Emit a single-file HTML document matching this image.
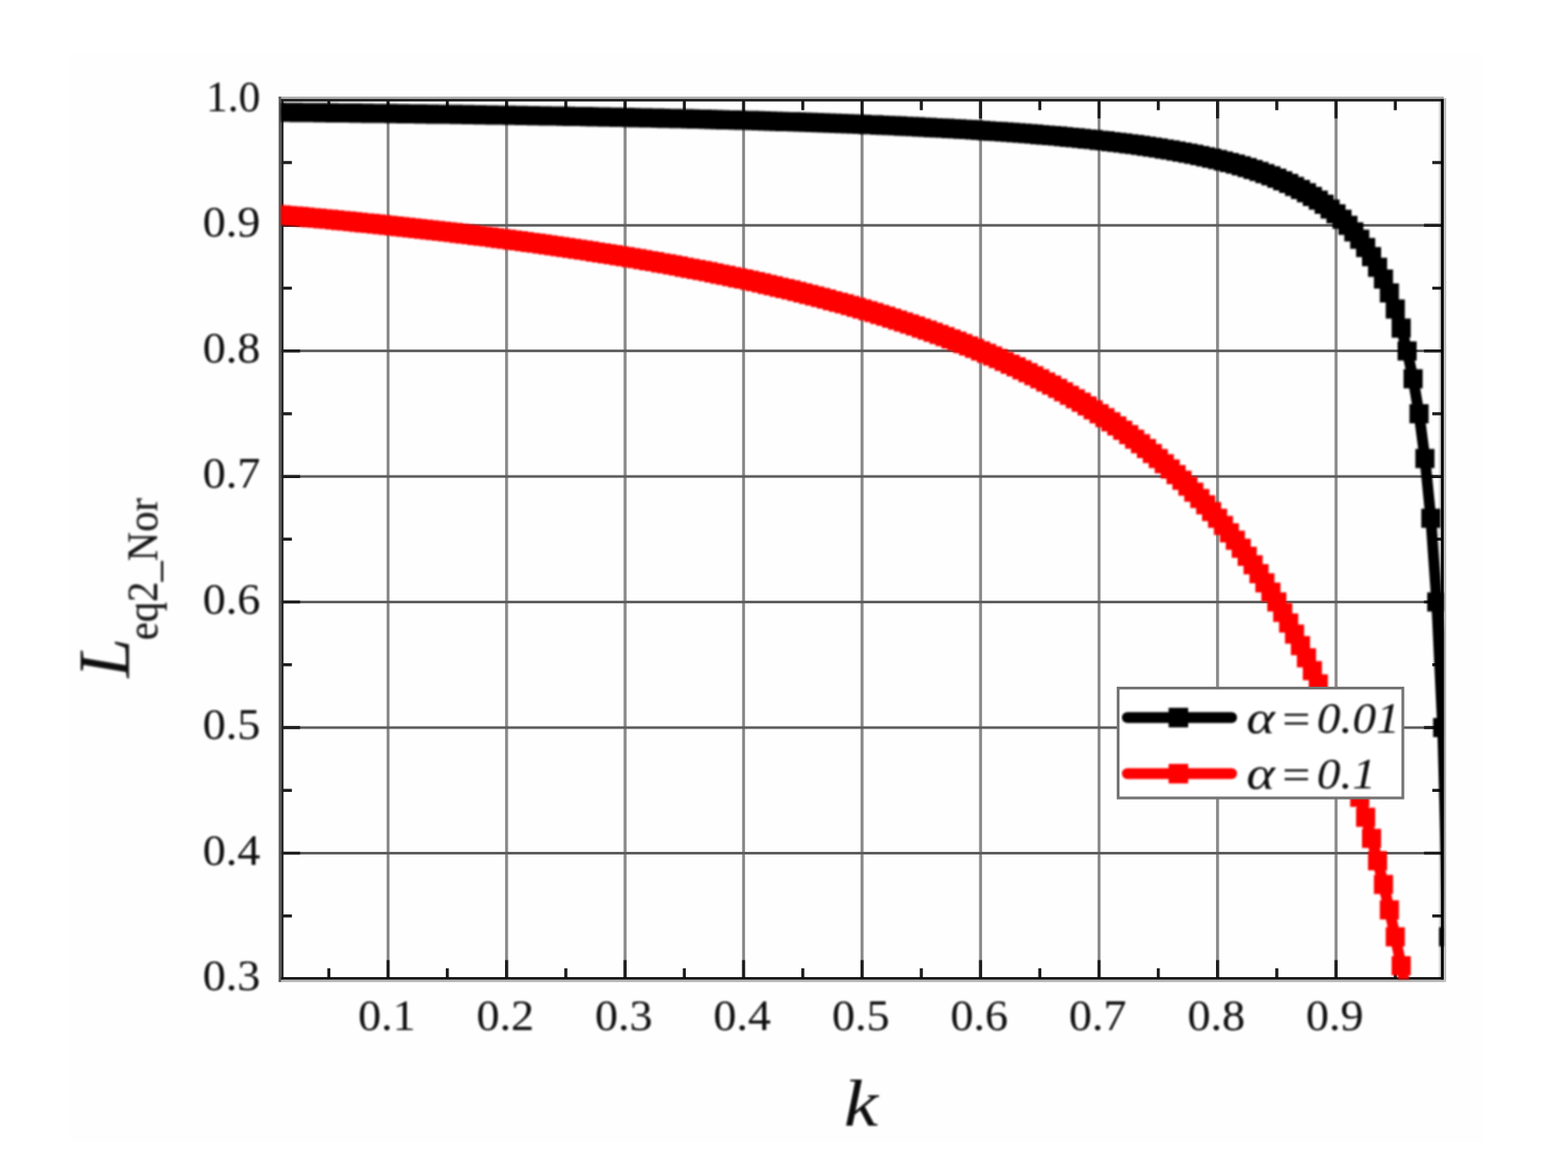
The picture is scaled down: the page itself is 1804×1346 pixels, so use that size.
<!DOCTYPE html>
<html lang="en"><head><meta charset="utf-8"><title>L_eq2_Nor vs k</title>
<style>html,body{margin:0;padding:0;background:#fff;}body{width:1804px;height:1346px;overflow:hidden;}svg{display:block;}text{font-family:"Liberation Serif","DejaVu Serif",serif;fill:#080808;}</style></head><body>
<svg width="1804" height="1346" viewBox="0 0 1804 1346">
<defs><clipPath id="pc"><rect x="323.30" y="113.75" width="1337.63" height="1012.82"/></clipPath>
<filter id="bt" x="-5%" y="-5%" width="110%" height="110%"><feGaussianBlur stdDeviation="0.8"/></filter>
<filter id="bc" filterUnits="userSpaceOnUse" x="0" y="0" width="1804" height="1346"><feGaussianBlur stdDeviation="0.8"/></filter>
</defs>
<rect x="0" y="0" width="1804" height="1346" fill="#fff"/>
<rect x="80" y="62" width="1626" height="1252" fill="#fefefe"/>
<g>
<rect x="444.80" y="114.75" width="3.40" height="1011.22" fill="#898989"/>
<rect x="581.13" y="114.75" width="3.40" height="1011.22" fill="#898989"/>
<rect x="717.46" y="114.75" width="3.40" height="1011.22" fill="#898989"/>
<rect x="853.79" y="114.75" width="3.40" height="1011.22" fill="#898989"/>
<rect x="990.12" y="114.75" width="3.40" height="1011.22" fill="#898989"/>
<rect x="1126.45" y="114.75" width="3.40" height="1011.22" fill="#898989"/>
<rect x="1262.78" y="114.75" width="3.40" height="1011.22" fill="#898989"/>
<rect x="1399.11" y="114.75" width="3.40" height="1011.22" fill="#898989"/>
<rect x="1535.44" y="114.75" width="3.40" height="1011.22" fill="#898989"/>
<rect x="323.80" y="980.01" width="1336.03" height="3.00" fill="#5c5c5c"/>
<rect x="323.80" y="835.55" width="1336.03" height="3.00" fill="#5c5c5c"/>
<rect x="323.80" y="691.09" width="1336.03" height="3.00" fill="#5c5c5c"/>
<rect x="323.80" y="546.63" width="1336.03" height="3.00" fill="#5c5c5c"/>
<rect x="323.80" y="402.17" width="1336.03" height="3.00" fill="#5c5c5c"/>
<rect x="323.80" y="257.71" width="1336.03" height="3.00" fill="#5c5c5c"/>
<rect x="320.60" y="111.20" width="1340.40" height="2.70" fill="#aaaaaa"/>
<rect x="320.60" y="1126.90" width="1340.40" height="2.80" fill="#b0b0b0"/>
<rect x="1661.00" y="113.00" width="2.80" height="1016.70" fill="#bbbbbb"/>
<rect x="1655.20" y="116.70" width="2.50" height="1007.40" fill="#dddddd"/>
<path d="M378.33 1125.97v-12.00M378.33 114.75v12.00M446.50 1125.97v-21.50M446.50 114.75v21.50M514.66 1125.97v-12.00M514.66 114.75v12.00M582.83 1125.97v-21.50M582.83 114.75v21.50M651.00 1125.97v-12.00M651.00 114.75v12.00M719.16 1125.97v-21.50M719.16 114.75v21.50M787.33 1125.97v-12.00M787.33 114.75v12.00M855.49 1125.97v-21.50M855.49 114.75v21.50M923.65 1125.97v-12.00M923.65 114.75v12.00M991.82 1125.97v-21.50M991.82 114.75v21.50M1059.99 1125.97v-12.00M1059.99 114.75v12.00M1128.15 1125.97v-21.50M1128.15 114.75v21.50M1196.32 1125.97v-12.00M1196.32 114.75v12.00M1264.48 1125.97v-21.50M1264.48 114.75v21.50M1332.64 1125.97v-12.00M1332.64 114.75v12.00M1400.81 1125.97v-21.50M1400.81 114.75v21.50M1468.98 1125.97v-12.00M1468.98 114.75v12.00M1537.14 1125.97v-21.50M1537.14 114.75v21.50M1605.31 1125.97v-12.00M1605.31 114.75v12.00M323.80 1053.74h12.00M1659.84 1053.74h-12.00M323.80 981.51h21.50M1659.84 981.51h-21.50M323.80 909.28h12.00M1659.84 909.28h-12.00M323.80 837.05h21.50M1659.84 837.05h-21.50M323.80 764.82h12.00M1659.84 764.82h-12.00M323.80 692.59h21.50M1659.84 692.59h-21.50M323.80 620.36h12.00M1659.84 620.36h-12.00M323.80 548.13h21.50M1659.84 548.13h-21.50M323.80 475.90h12.00M1659.84 475.90h-12.00M323.80 403.67h21.50M1659.84 403.67h-21.50M323.80 331.44h12.00M1659.84 331.44h-12.00M323.80 259.21h21.50M1659.84 259.21h-21.50M323.80 186.98h12.00M1659.84 186.98h-12.00" stroke="#1c1c1c" stroke-width="3.5" fill="none"/>
</g>
<g>
<rect x="320.60" y="111.20" width="2.80" height="1018.50" fill="#5a5a5a"/>
<rect x="323.40" y="113.90" width="2.80" height="1013.00" fill="#222222"/>
<rect x="323.40" y="113.90" width="1337.60" height="2.80" fill="#1a1a1a"/>
<rect x="323.40" y="1124.10" width="1337.60" height="2.80" fill="#111111"/>
<rect x="1657.70" y="113.90" width="3.30" height="1013.00" fill="#000000"/>
</g>
<g filter="url(#bc)"><g clip-path="url(#pc)"><polyline fill="none" stroke="#000" stroke-width="12.5" stroke-linejoin="round" points="317.0,129.1 323.8,129.2 330.6,129.3 337.4,129.3 344.3,129.4 351.1,129.5 357.9,129.6 364.7,129.6 371.5,129.7 378.3,129.8 385.2,129.9 392.0,130.0 398.8,130.0 405.6,130.1 412.4,130.2 419.2,130.3 426.1,130.4 432.9,130.5 439.7,130.5 446.5,130.6 453.3,130.7 460.1,130.8 466.9,130.9 473.8,131.0 480.6,131.1 487.4,131.2 494.2,131.3 501.0,131.4 507.8,131.5 514.7,131.5 521.5,131.6 528.3,131.7 535.1,131.8 541.9,131.9 548.7,132.1 555.6,132.2 562.4,132.3 569.2,132.4 576.0,132.5 582.8,132.6 589.6,132.7 596.5,132.8 603.3,132.9 610.1,133.0 616.9,133.2 623.7,133.3 630.5,133.4 637.4,133.5 644.2,133.6 651.0,133.8 657.8,133.9 664.6,134.0 671.4,134.1 678.3,134.3 685.1,134.4 691.9,134.5 698.7,134.7 705.5,134.8 712.3,135.0 719.2,135.1 726.0,135.2 732.8,135.4 739.6,135.5 746.4,135.7 753.2,135.8 760.1,136.0 766.9,136.2 773.7,136.3 780.5,136.5 787.3,136.6 794.1,136.8 801.0,137.0 807.8,137.1 814.6,137.3 821.4,137.5 828.2,137.7 835.0,137.9 841.9,138.0 848.7,138.2 855.5,138.4 862.3,138.6 869.1,138.8 875.9,139.0 882.8,139.2 889.6,139.4 896.4,139.7 903.2,139.9 910.0,140.1 916.8,140.3 923.7,140.5 930.5,140.8 937.3,141.0 944.1,141.3 950.9,141.5 957.7,141.8 964.6,142.0 971.4,142.3 978.2,142.5 985.0,142.8 991.8,143.1 998.6,143.4 1005.5,143.6 1012.3,143.9 1019.1,144.2 1025.9,144.5 1032.7,144.8 1039.5,145.2 1046.4,145.5 1053.2,145.8 1060.0,146.2 1066.8,146.5 1073.6,146.9 1080.4,147.2 1087.3,147.6 1094.1,148.0 1100.9,148.3 1107.7,148.7 1114.5,149.1 1121.3,149.6 1128.2,150.0 1135.0,150.4 1141.8,150.9 1148.6,151.3 1155.4,151.8 1162.2,152.3 1169.0,152.8 1175.9,153.3 1182.7,153.8 1189.5,154.3 1196.3,154.9 1203.1,155.4 1209.9,156.0 1216.8,156.6 1223.6,157.2 1230.4,157.9 1237.2,158.5 1244.0,159.2 1250.8,159.9 1257.7,160.6 1264.5,161.4 1271.3,162.1 1278.1,162.9 1284.9,163.7 1291.7,164.6 1298.6,165.4 1305.4,166.3 1312.2,167.3 1319.0,168.3 1325.8,169.3 1332.6,170.3 1339.5,171.4 1346.3,172.5 1353.1,173.7 1359.9,174.9 1366.7,176.2 1373.5,177.6 1380.4,179.0 1387.2,180.4 1394.0,181.9 1400.8,183.5 1407.6,185.2 1414.4,187.0 1421.3,188.8 1428.1,190.8 1434.9,192.8 1441.7,195.0 1448.5,197.3 1455.3,199.7 1462.2,202.3 1469.0,205.0 1475.8,208.0 1482.6,211.1 1489.4,214.4 1496.2,217.9 1503.1,221.8 1509.9,225.9 1516.7,230.3 1523.5,235.1 1530.3,240.4 1537.1,246.1 1544.0,252.3 1550.8,259.2 1557.6,266.8 1564.4,275.3 1571.2,284.7 1578.0,295.3 1584.9,307.4 1591.7,321.1 1598.5,337.0 1605.3,355.5 1612.1,377.4 1618.9,403.7 1625.8,435.8 1632.6,475.9 1639.4,527.5 1646.2,596.3 1653.0,692.6 1659.8,837.0 1666.7,1077.8"/><path fill="#000" d="M306.0 118.1h22v22h-22zM312.8 118.2h22v22h-22zM319.6 118.3h22v22h-22zM326.4 118.3h22v22h-22zM333.3 118.4h22v22h-22zM340.1 118.5h22v22h-22zM346.9 118.6h22v22h-22zM353.7 118.6h22v22h-22zM360.5 118.7h22v22h-22zM367.3 118.8h22v22h-22zM374.2 118.9h22v22h-22zM381.0 119.0h22v22h-22zM387.8 119.0h22v22h-22zM394.6 119.1h22v22h-22zM401.4 119.2h22v22h-22zM408.2 119.3h22v22h-22zM415.1 119.4h22v22h-22zM421.9 119.5h22v22h-22zM428.7 119.5h22v22h-22zM435.5 119.6h22v22h-22zM442.3 119.7h22v22h-22zM449.1 119.8h22v22h-22zM455.9 119.9h22v22h-22zM462.8 120.0h22v22h-22zM469.6 120.1h22v22h-22zM476.4 120.2h22v22h-22zM483.2 120.3h22v22h-22zM490.0 120.4h22v22h-22zM496.8 120.5h22v22h-22zM503.7 120.5h22v22h-22zM510.5 120.6h22v22h-22zM517.3 120.7h22v22h-22zM524.1 120.8h22v22h-22zM530.9 120.9h22v22h-22zM537.7 121.1h22v22h-22zM544.6 121.2h22v22h-22zM551.4 121.3h22v22h-22zM558.2 121.4h22v22h-22zM565.0 121.5h22v22h-22zM571.8 121.6h22v22h-22zM578.6 121.7h22v22h-22zM585.5 121.8h22v22h-22zM592.3 121.9h22v22h-22zM599.1 122.0h22v22h-22zM605.9 122.2h22v22h-22zM612.7 122.3h22v22h-22zM619.5 122.4h22v22h-22zM626.4 122.5h22v22h-22zM633.2 122.6h22v22h-22zM640.0 122.8h22v22h-22zM646.8 122.9h22v22h-22zM653.6 123.0h22v22h-22zM660.4 123.1h22v22h-22zM667.3 123.3h22v22h-22zM674.1 123.4h22v22h-22zM680.9 123.5h22v22h-22zM687.7 123.7h22v22h-22zM694.5 123.8h22v22h-22zM701.3 124.0h22v22h-22zM708.2 124.1h22v22h-22zM715.0 124.2h22v22h-22zM721.8 124.4h22v22h-22zM728.6 124.5h22v22h-22zM735.4 124.7h22v22h-22zM742.2 124.8h22v22h-22zM749.1 125.0h22v22h-22zM755.9 125.2h22v22h-22zM762.7 125.3h22v22h-22zM769.5 125.5h22v22h-22zM776.3 125.6h22v22h-22zM783.1 125.8h22v22h-22zM790.0 126.0h22v22h-22zM796.8 126.1h22v22h-22zM803.6 126.3h22v22h-22zM810.4 126.5h22v22h-22zM817.2 126.7h22v22h-22zM824.0 126.9h22v22h-22zM830.9 127.0h22v22h-22zM837.7 127.2h22v22h-22zM844.5 127.4h22v22h-22zM851.3 127.6h22v22h-22zM858.1 127.8h22v22h-22zM864.9 128.0h22v22h-22zM871.8 128.2h22v22h-22zM878.6 128.4h22v22h-22zM885.4 128.7h22v22h-22zM892.2 128.9h22v22h-22zM899.0 129.1h22v22h-22zM905.8 129.3h22v22h-22zM912.7 129.5h22v22h-22zM919.5 129.8h22v22h-22zM926.3 130.0h22v22h-22zM933.1 130.3h22v22h-22zM939.9 130.5h22v22h-22zM946.7 130.8h22v22h-22zM953.6 131.0h22v22h-22zM960.4 131.3h22v22h-22zM967.2 131.5h22v22h-22zM974.0 131.8h22v22h-22zM980.8 132.1h22v22h-22zM987.6 132.4h22v22h-22zM994.5 132.6h22v22h-22zM1001.3 132.9h22v22h-22zM1008.1 133.2h22v22h-22zM1014.9 133.5h22v22h-22zM1021.7 133.8h22v22h-22zM1028.5 134.2h22v22h-22zM1035.4 134.5h22v22h-22zM1042.2 134.8h22v22h-22zM1049.0 135.2h22v22h-22zM1055.8 135.5h22v22h-22zM1062.6 135.9h22v22h-22zM1069.4 136.2h22v22h-22zM1076.3 136.6h22v22h-22zM1083.1 137.0h22v22h-22zM1089.9 137.3h22v22h-22zM1096.7 137.7h22v22h-22zM1103.5 138.1h22v22h-22zM1110.3 138.6h22v22h-22zM1117.2 139.0h22v22h-22zM1124.0 139.4h22v22h-22zM1130.8 139.9h22v22h-22zM1137.6 140.3h22v22h-22zM1144.4 140.8h22v22h-22zM1151.2 141.3h22v22h-22zM1158.0 141.8h22v22h-22zM1164.9 142.3h22v22h-22zM1171.7 142.8h22v22h-22zM1178.5 143.3h22v22h-22zM1185.3 143.9h22v22h-22zM1192.1 144.4h22v22h-22zM1198.9 145.0h22v22h-22zM1205.8 145.6h22v22h-22zM1212.6 146.2h22v22h-22zM1219.4 146.9h22v22h-22zM1226.2 147.5h22v22h-22zM1233.0 148.2h22v22h-22zM1239.8 148.9h22v22h-22zM1246.7 149.6h22v22h-22zM1253.5 150.4h22v22h-22zM1260.3 151.1h22v22h-22zM1267.1 151.9h22v22h-22zM1273.9 152.7h22v22h-22zM1280.7 153.6h22v22h-22zM1287.6 154.4h22v22h-22zM1294.4 155.3h22v22h-22zM1301.2 156.3h22v22h-22zM1308.0 157.3h22v22h-22zM1314.8 158.3h22v22h-22zM1321.6 159.3h22v22h-22zM1328.5 160.4h22v22h-22zM1335.3 161.5h22v22h-22zM1342.1 162.7h22v22h-22zM1348.9 163.9h22v22h-22zM1355.7 165.2h22v22h-22zM1362.5 166.6h22v22h-22zM1369.4 168.0h22v22h-22zM1376.2 169.4h22v22h-22zM1383.0 170.9h22v22h-22zM1389.8 172.5h22v22h-22zM1396.6 174.2h22v22h-22zM1403.4 176.0h22v22h-22zM1410.3 177.8h22v22h-22zM1417.1 179.8h22v22h-22zM1423.9 181.8h22v22h-22zM1430.7 184.0h22v22h-22zM1437.5 186.3h22v22h-22zM1444.3 188.7h22v22h-22zM1451.2 191.3h22v22h-22zM1458.0 194.0h22v22h-22zM1464.8 197.0h22v22h-22zM1471.6 200.1h22v22h-22zM1478.4 203.4h22v22h-22zM1485.2 206.9h22v22h-22zM1492.1 210.8h22v22h-22zM1498.9 214.9h22v22h-22zM1505.7 219.3h22v22h-22zM1512.5 224.1h22v22h-22zM1519.3 229.4h22v22h-22zM1526.1 235.1h22v22h-22zM1533.0 241.3h22v22h-22zM1539.8 248.2h22v22h-22zM1546.6 255.8h22v22h-22zM1553.4 264.3h22v22h-22zM1560.2 273.7h22v22h-22zM1567.0 284.3h22v22h-22zM1573.9 296.4h22v22h-22zM1580.7 310.1h22v22h-22zM1587.5 326.0h22v22h-22zM1594.3 344.5h22v22h-22zM1601.1 366.4h22v22h-22zM1607.9 392.7h22v22h-22zM1614.8 424.8h22v22h-22zM1621.6 464.9h22v22h-22zM1628.4 516.5h22v22h-22zM1635.2 585.3h22v22h-22zM1642.0 681.6h22v22h-22zM1648.8 826.0h22v22h-22zM1655.7 1066.8h22v22h-22z"/></g></g>
<g filter="url(#bc)"><g clip-path="url(#pc)"><polyline fill="none" stroke="#fe0000" stroke-width="12.5" stroke-linejoin="round" points="317.0,246.7 323.8,247.3 330.6,247.9 337.4,248.5 344.3,249.1 351.1,249.8 357.9,250.4 364.7,251.0 371.5,251.7 378.3,252.3 385.2,253.0 392.0,253.7 398.8,254.3 405.6,255.0 412.4,255.7 419.2,256.4 426.1,257.1 432.9,257.8 439.7,258.5 446.5,259.2 453.3,259.9 460.1,260.7 466.9,261.4 473.8,262.2 480.6,262.9 487.4,263.7 494.2,264.4 501.0,265.2 507.8,266.0 514.7,266.8 521.5,267.6 528.3,268.4 535.1,269.3 541.9,270.1 548.7,270.9 555.6,271.8 562.4,272.6 569.2,273.5 576.0,274.4 582.8,275.3 589.6,276.2 596.5,277.1 603.3,278.0 610.1,278.9 616.9,279.8 623.7,280.8 630.5,281.8 637.4,282.7 644.2,283.7 651.0,284.7 657.8,285.7 664.6,286.7 671.4,287.8 678.3,288.8 685.1,289.9 691.9,290.9 698.7,292.0 705.5,293.1 712.3,294.2 719.2,295.3 726.0,296.5 732.8,297.6 739.6,298.8 746.4,300.0 753.2,301.1 760.1,302.4 766.9,303.6 773.7,304.8 780.5,306.1 787.3,307.4 794.1,308.7 801.0,310.0 807.8,311.3 814.6,312.6 821.4,314.0 828.2,315.4 835.0,316.8 841.9,318.2 848.7,319.7 855.5,321.1 862.3,322.6 869.1,324.1 875.9,325.6 882.8,327.2 889.6,328.8 896.4,330.4 903.2,332.0 910.0,333.6 916.8,335.3 923.7,337.0 930.5,338.7 937.3,340.5 944.1,342.2 950.9,344.1 957.7,345.9 964.6,347.7 971.4,349.6 978.2,351.6 985.0,353.5 991.8,355.5 998.6,357.5 1005.5,359.6 1012.3,361.7 1019.1,363.8 1025.9,366.0 1032.7,368.2 1039.5,370.4 1046.4,372.7 1053.2,375.0 1060.0,377.4 1066.8,379.8 1073.6,382.3 1080.4,384.8 1087.3,387.3 1094.1,389.9 1100.9,392.6 1107.7,395.3 1114.5,398.0 1121.3,400.8 1128.2,403.7 1135.0,406.6 1141.8,409.6 1148.6,412.6 1155.4,415.7 1162.2,418.9 1169.0,422.1 1175.9,425.4 1182.7,428.8 1189.5,432.2 1196.3,435.8 1203.1,439.4 1209.9,443.1 1216.8,446.8 1223.6,450.7 1230.4,454.7 1237.2,458.7 1244.0,462.8 1250.8,467.1 1257.7,471.4 1264.5,475.9 1271.3,480.5 1278.1,485.2 1284.9,490.0 1291.7,494.9 1298.6,500.0 1305.4,505.2 1312.2,510.5 1319.0,516.0 1325.8,521.7 1332.6,527.5 1339.5,533.5 1346.3,539.6 1353.1,546.0 1359.9,552.5 1366.7,559.2 1373.5,566.2 1380.4,573.4 1387.2,580.7 1394.0,588.4 1400.8,596.3 1407.6,604.4 1414.4,612.9 1421.3,621.6 1428.1,630.7 1434.9,640.1 1441.7,649.8 1448.5,659.9 1455.3,670.4 1462.2,681.3 1469.0,692.6 1475.8,704.4 1482.6,716.7 1489.4,729.5 1496.2,742.8 1503.1,756.8 1509.9,771.4 1516.7,786.7 1523.5,802.7 1530.3,819.4 1537.1,837.0 1544.0,855.6 1550.8,875.1 1557.6,895.6 1564.4,917.3 1571.2,940.2 1578.0,964.5 1584.9,990.3 1591.7,1017.6 1598.5,1046.8 1605.3,1077.8 1612.1,1111.0 1618.9,1146.6 1625.8,1184.8 1632.6,1226.0 1639.4,1270.4 1646.2,1318.6 1653.0,1370.9 1659.8,1428.0 1666.7,1490.6"/><path fill="#fe0000" d="M306.0 235.7h22v22h-22zM312.8 236.3h22v22h-22zM319.6 236.9h22v22h-22zM326.4 237.5h22v22h-22zM333.3 238.1h22v22h-22zM340.1 238.8h22v22h-22zM346.9 239.4h22v22h-22zM353.7 240.0h22v22h-22zM360.5 240.7h22v22h-22zM367.3 241.3h22v22h-22zM374.2 242.0h22v22h-22zM381.0 242.7h22v22h-22zM387.8 243.3h22v22h-22zM394.6 244.0h22v22h-22zM401.4 244.7h22v22h-22zM408.2 245.4h22v22h-22zM415.1 246.1h22v22h-22zM421.9 246.8h22v22h-22zM428.7 247.5h22v22h-22zM435.5 248.2h22v22h-22zM442.3 248.9h22v22h-22zM449.1 249.7h22v22h-22zM455.9 250.4h22v22h-22zM462.8 251.2h22v22h-22zM469.6 251.9h22v22h-22zM476.4 252.7h22v22h-22zM483.2 253.4h22v22h-22zM490.0 254.2h22v22h-22zM496.8 255.0h22v22h-22zM503.7 255.8h22v22h-22zM510.5 256.6h22v22h-22zM517.3 257.4h22v22h-22zM524.1 258.3h22v22h-22zM530.9 259.1h22v22h-22zM537.7 259.9h22v22h-22zM544.6 260.8h22v22h-22zM551.4 261.6h22v22h-22zM558.2 262.5h22v22h-22zM565.0 263.4h22v22h-22zM571.8 264.3h22v22h-22zM578.6 265.2h22v22h-22zM585.5 266.1h22v22h-22zM592.3 267.0h22v22h-22zM599.1 267.9h22v22h-22zM605.9 268.8h22v22h-22zM612.7 269.8h22v22h-22zM619.5 270.8h22v22h-22zM626.4 271.7h22v22h-22zM633.2 272.7h22v22h-22zM640.0 273.7h22v22h-22zM646.8 274.7h22v22h-22zM653.6 275.7h22v22h-22zM660.4 276.8h22v22h-22zM667.3 277.8h22v22h-22zM674.1 278.9h22v22h-22zM680.9 279.9h22v22h-22zM687.7 281.0h22v22h-22zM694.5 282.1h22v22h-22zM701.3 283.2h22v22h-22zM708.2 284.3h22v22h-22zM715.0 285.5h22v22h-22zM721.8 286.6h22v22h-22zM728.6 287.8h22v22h-22zM735.4 289.0h22v22h-22zM742.2 290.1h22v22h-22zM749.1 291.4h22v22h-22zM755.9 292.6h22v22h-22zM762.7 293.8h22v22h-22zM769.5 295.1h22v22h-22zM776.3 296.4h22v22h-22zM783.1 297.7h22v22h-22zM790.0 299.0h22v22h-22zM796.8 300.3h22v22h-22zM803.6 301.6h22v22h-22zM810.4 303.0h22v22h-22zM817.2 304.4h22v22h-22zM824.0 305.8h22v22h-22zM830.9 307.2h22v22h-22zM837.7 308.7h22v22h-22zM844.5 310.1h22v22h-22zM851.3 311.6h22v22h-22zM858.1 313.1h22v22h-22zM864.9 314.6h22v22h-22zM871.8 316.2h22v22h-22zM878.6 317.8h22v22h-22zM885.4 319.4h22v22h-22zM892.2 321.0h22v22h-22zM899.0 322.6h22v22h-22zM905.8 324.3h22v22h-22zM912.7 326.0h22v22h-22zM919.5 327.7h22v22h-22zM926.3 329.5h22v22h-22zM933.1 331.2h22v22h-22zM939.9 333.1h22v22h-22zM946.7 334.9h22v22h-22zM953.6 336.7h22v22h-22zM960.4 338.6h22v22h-22zM967.2 340.6h22v22h-22zM974.0 342.5h22v22h-22zM980.8 344.5h22v22h-22zM987.6 346.5h22v22h-22zM994.5 348.6h22v22h-22zM1001.3 350.7h22v22h-22zM1008.1 352.8h22v22h-22zM1014.9 355.0h22v22h-22zM1021.7 357.2h22v22h-22zM1028.5 359.4h22v22h-22zM1035.4 361.7h22v22h-22zM1042.2 364.0h22v22h-22zM1049.0 366.4h22v22h-22zM1055.8 368.8h22v22h-22zM1062.6 371.3h22v22h-22zM1069.4 373.8h22v22h-22zM1076.3 376.3h22v22h-22zM1083.1 378.9h22v22h-22zM1089.9 381.6h22v22h-22zM1096.7 384.3h22v22h-22zM1103.5 387.0h22v22h-22zM1110.3 389.8h22v22h-22zM1117.2 392.7h22v22h-22zM1124.0 395.6h22v22h-22zM1130.8 398.6h22v22h-22zM1137.6 401.6h22v22h-22zM1144.4 404.7h22v22h-22zM1151.2 407.9h22v22h-22zM1158.0 411.1h22v22h-22zM1164.9 414.4h22v22h-22zM1171.7 417.8h22v22h-22zM1178.5 421.2h22v22h-22zM1185.3 424.8h22v22h-22zM1192.1 428.4h22v22h-22zM1198.9 432.1h22v22h-22zM1205.8 435.8h22v22h-22zM1212.6 439.7h22v22h-22zM1219.4 443.7h22v22h-22zM1226.2 447.7h22v22h-22zM1233.0 451.8h22v22h-22zM1239.8 456.1h22v22h-22zM1246.7 460.4h22v22h-22zM1253.5 464.9h22v22h-22zM1260.3 469.5h22v22h-22zM1267.1 474.2h22v22h-22zM1273.9 479.0h22v22h-22zM1280.7 483.9h22v22h-22zM1287.6 489.0h22v22h-22zM1294.4 494.2h22v22h-22zM1301.2 499.5h22v22h-22zM1308.0 505.0h22v22h-22zM1314.8 510.7h22v22h-22zM1321.6 516.5h22v22h-22zM1328.5 522.5h22v22h-22zM1335.3 528.6h22v22h-22zM1342.1 535.0h22v22h-22zM1348.9 541.5h22v22h-22zM1355.7 548.2h22v22h-22zM1362.5 555.2h22v22h-22zM1369.4 562.4h22v22h-22zM1376.2 569.7h22v22h-22zM1383.0 577.4h22v22h-22zM1389.8 585.3h22v22h-22zM1396.6 593.4h22v22h-22zM1403.4 601.9h22v22h-22zM1410.3 610.6h22v22h-22zM1417.1 619.7h22v22h-22zM1423.9 629.1h22v22h-22zM1430.7 638.8h22v22h-22zM1437.5 648.9h22v22h-22zM1444.3 659.4h22v22h-22zM1451.2 670.3h22v22h-22zM1458.0 681.6h22v22h-22zM1464.8 693.4h22v22h-22zM1471.6 705.7h22v22h-22zM1478.4 718.5h22v22h-22zM1485.2 731.8h22v22h-22zM1492.1 745.8h22v22h-22zM1498.9 760.4h22v22h-22zM1505.7 775.7h22v22h-22zM1512.5 791.7h22v22h-22zM1519.3 808.4h22v22h-22zM1526.1 826.0h22v22h-22zM1533.0 844.6h22v22h-22zM1539.8 864.1h22v22h-22zM1546.6 884.6h22v22h-22zM1553.4 906.3h22v22h-22zM1560.2 929.2h22v22h-22zM1567.0 953.5h22v22h-22zM1573.9 979.3h22v22h-22zM1580.7 1006.6h22v22h-22zM1587.5 1035.8h22v22h-22zM1594.3 1066.8h22v22h-22zM1601.1 1100.0h22v22h-22zM1607.9 1135.6h22v22h-22z"/></g></g>
<rect x="1286.4" y="791.6" width="327.6" height="126.4" fill="#fff" stroke="#737373" stroke-width="3.2"/>
<g filter="url(#bc)">
<line x1="1297" y1="825.5" x2="1417" y2="825.5" stroke="#000" stroke-width="12.5" stroke-linecap="round"/>
<rect x="1344.5" y="814.3" width="22.5" height="22.5" fill="#000"/>
<line x1="1297" y1="890.0" x2="1417" y2="890.0" stroke="#fe0000" stroke-width="12.5" stroke-linecap="round"/>
<rect x="1344.5" y="878.8" width="22.5" height="22.5" fill="#fe0000"/>
</g>
<g filter="url(#bt)">
<text y="843.00" font-style="italic" font-size="50"><tspan x="1434.00" font-size="52" font-style="italic" textLength="32.76" lengthAdjust="spacingAndGlyphs">α</tspan> <tspan x="1471.50" y="844.00" font-size="50" font-style="italic" textLength="38.81" lengthAdjust="spacingAndGlyphs">=</tspan> <tspan x="1515.00" y="843.00" font-size="50" font-style="italic" textLength="95.38" lengthAdjust="spacingAndGlyphs">0.01</tspan></text>
<text y="906.50" font-style="italic" font-size="50"><tspan x="1434.00" font-size="52" font-style="italic" textLength="32.76" lengthAdjust="spacingAndGlyphs">α</tspan> <tspan x="1471.50" y="907.50" font-size="50" font-style="italic" textLength="38.81" lengthAdjust="spacingAndGlyphs">=</tspan> <tspan x="1515.00" y="906.50" font-size="50" font-style="italic" textLength="68.12" lengthAdjust="spacingAndGlyphs">0.1</tspan></text>
<text x="445.00" y="1185.00" font-size="50" text-anchor="middle" textLength="66.25" lengthAdjust="spacingAndGlyphs">0.1</text>
<text x="581.33" y="1185.00" font-size="50" text-anchor="middle" textLength="66.25" lengthAdjust="spacingAndGlyphs">0.2</text>
<text x="717.66" y="1185.00" font-size="50" text-anchor="middle" textLength="66.25" lengthAdjust="spacingAndGlyphs">0.3</text>
<text x="853.99" y="1185.00" font-size="50" text-anchor="middle" textLength="66.25" lengthAdjust="spacingAndGlyphs">0.4</text>
<text x="990.32" y="1185.00" font-size="50" text-anchor="middle" textLength="66.25" lengthAdjust="spacingAndGlyphs">0.5</text>
<text x="1126.65" y="1185.00" font-size="50" text-anchor="middle" textLength="66.25" lengthAdjust="spacingAndGlyphs">0.6</text>
<text x="1262.98" y="1185.00" font-size="50" text-anchor="middle" textLength="66.25" lengthAdjust="spacingAndGlyphs">0.7</text>
<text x="1399.31" y="1185.00" font-size="50" text-anchor="middle" textLength="66.25" lengthAdjust="spacingAndGlyphs">0.8</text>
<text x="1535.64" y="1185.00" font-size="50" text-anchor="middle" textLength="66.25" lengthAdjust="spacingAndGlyphs">0.9</text>
<text x="299.50" y="1139.17" font-size="50" text-anchor="end" textLength="66.25" lengthAdjust="spacingAndGlyphs">0.3</text>
<text x="299.50" y="994.71" font-size="50" text-anchor="end" textLength="66.25" lengthAdjust="spacingAndGlyphs">0.4</text>
<text x="299.50" y="850.25" font-size="50" text-anchor="end" textLength="66.25" lengthAdjust="spacingAndGlyphs">0.5</text>
<text x="299.50" y="705.79" font-size="50" text-anchor="end" textLength="66.25" lengthAdjust="spacingAndGlyphs">0.6</text>
<text x="299.50" y="561.33" font-size="50" text-anchor="end" textLength="66.25" lengthAdjust="spacingAndGlyphs">0.7</text>
<text x="299.50" y="416.87" font-size="50" text-anchor="end" textLength="66.25" lengthAdjust="spacingAndGlyphs">0.8</text>
<text x="299.50" y="272.41" font-size="50" text-anchor="end" textLength="66.25" lengthAdjust="spacingAndGlyphs">0.9</text>
<text x="299.50" y="127.95" font-size="50" text-anchor="end">1.0</text>
<text x="971.00" y="1294.50" font-size="76" font-style="italic" textLength="39.13" lengthAdjust="spacingAndGlyphs">k</text>
<text transform="translate(148.80 779.50) rotate(-90)" font-size="84"><tspan x="0.00" y="0.00" font-size="84" font-style="italic" textLength="45.32" lengthAdjust="spacingAndGlyphs">L</tspan><tspan x="43.00" y="32.40" font-size="50" font-style="normal" textLength="163.58" lengthAdjust="spacingAndGlyphs">eq2_Nor</tspan></text>
</g>
</svg></body></html>
